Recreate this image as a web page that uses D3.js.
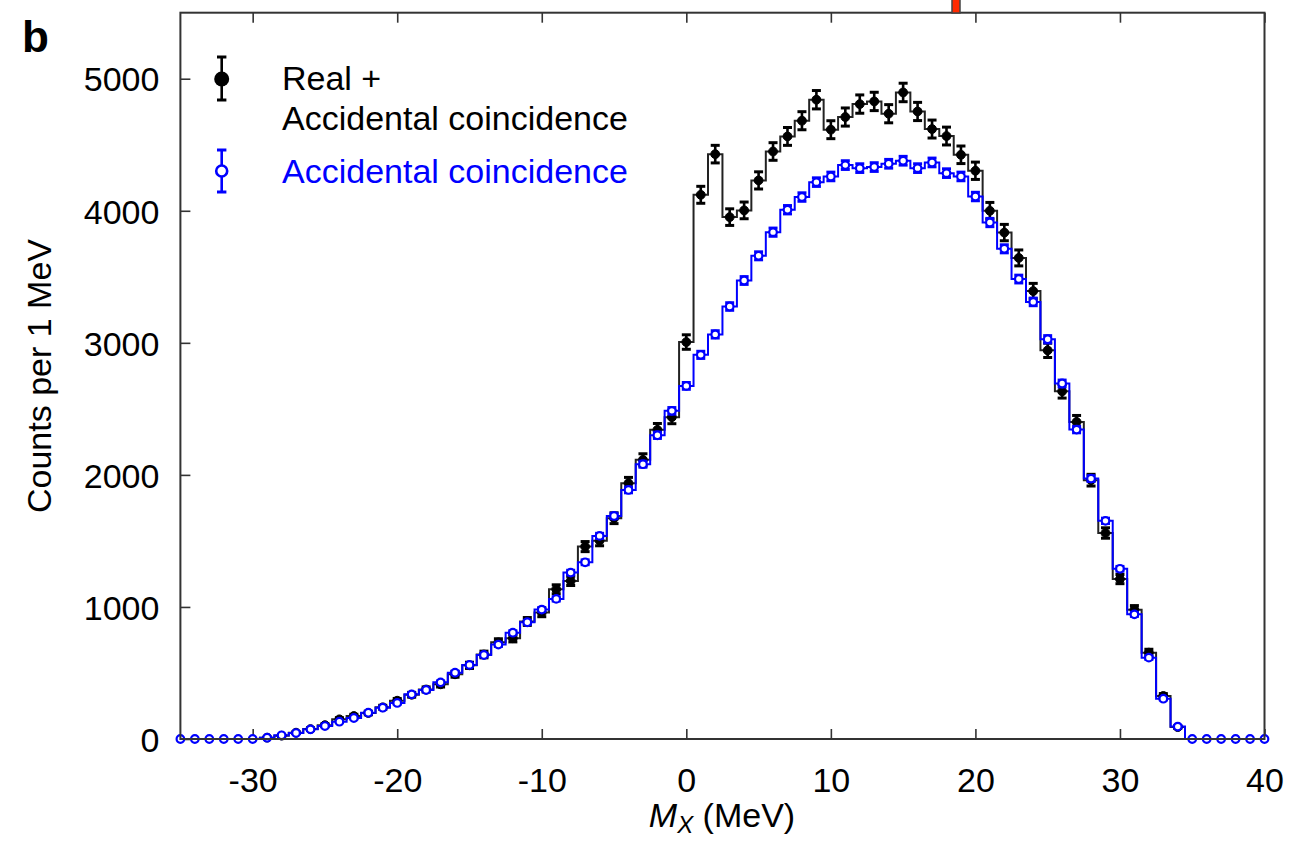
<!DOCTYPE html>
<html>
<head>
<meta charset="utf-8">
<script src="https://cdn.jsdelivr.net/npm/d3@7"></script>
<style>
  body { margin: 0; background: #fff; }
  svg text { font-family: "Liberation Sans", Arial, Helvetica, sans-serif; }
</style>
</head>
<body>
<div id="chart"></div>
<script>
// bin centres (MeV), 1 MeV bins
var binCenters = [-35, -34, -33, -32, -31, -30, -29, -28, -27, -26, -25, -24, -23, -22, -21, -20, -19, -18, -17, -16,
  -15, -14, -13, -12, -11, -10, -9, -8, -7, -6, -5, -4, -3, -2, -1, 0, 1, 2, 3, 4,
  5, 6, 7, 8, 9, 10, 11, 12, 13, 14, 15, 16, 17, 18, 19, 20, 21, 22, 23, 24,
  25, 26, 27, 28, 29, 30, 31, 32, 33, 34, 35, 36, 37, 38, 39, 40];

// Real + Accidental coincidence
var realCounts = [0, 0, 0, 0, 0, 0, 10, 25, 48, 75, 105, 149, 174, 197, 240, 290, 335, 375, 414, 490,
  558, 640, 732, 763, 890, 957, 1134, 1197, 1457, 1502, 1672, 1937, 2114, 2341, 2437, 3006, 4121, 4429, 3952, 4003,
  4230, 4449, 4563, 4682, 4841, 4614, 4710, 4808, 4828, 4735, 4896, 4752, 4619, 4566, 4424, 4303, 4000, 3835, 3643, 3392,
  2943, 2633, 2401, 1960, 1560, 1211, 979, 654, 326, 90, 0, 0, 0, 0, 0, 0];

// Accidental coincidence
var accCounts = [0, 0, 0, 0, 0, 0, 10, 28, 45, 73, 98, 131, 159, 199, 237, 273, 338, 371, 429, 502,
  561, 636, 715, 805, 884, 980, 1061, 1260, 1338, 1538, 1689, 1886, 2081, 2300, 2485, 2674, 2909, 3064, 3275, 3472,
  3659, 3838, 4008, 4104, 4217, 4260, 4346, 4323, 4331, 4356, 4379, 4323, 4366, 4285, 4260, 4108, 3911, 3712, 3483, 3310,
  3027, 2692, 2343, 1972, 1652, 1289, 944, 616, 305, 94, 0, 0, 0, 0, 0, 0];

var xTicks = [-30, -20, -10, 0, 10, 20, 30, 40];
var yTicks = [0, 1000, 2000, 3000, 4000, 5000];

var svgWidth = 1292;
var svgHeight = 842;
var margin = { top: 12.7, right: 27.5, bottom: 103, left: 180.4 };
var width = svgWidth - margin.left - margin.right;
var height = svgHeight - margin.top - margin.bottom;

var svg = d3.select("#chart")
  .append("svg")
  .attr("width", svgWidth)
  .attr("height", svgHeight);

var chartGroup = svg.append("g")
  .attr("transform", `translate(${margin.left}, ${margin.top})`);

var xScale = d3.scaleLinear().domain([-35, 40]).range([0, width]);
var yScale = d3.scaleLinear().domain([0, 5500]).range([height, 0]);

var realData = binCenters.map((x, i) => ({ x: x, y: realCounts[i] }));
var accData = binCenters.map((x, i) => ({ x: x, y: accCounts[i] }));

chartGroup.append("clipPath").attr("id", "plotClip")
  .append("rect").attr("width", width).attr("height", height);

// axes, ticks pointing inward; plain hyphen for negatives
var plainFmt = d => String(d);
var bottomAxis = d3.axisBottom(xScale).tickValues(xTicks).tickSize(-10).tickFormat(plainFmt);
var topAxis = d3.axisTop(xScale).tickValues(xTicks).tickSize(-10).tickFormat("");
var leftAxis = d3.axisLeft(yScale).tickValues(yTicks).tickSize(-10).tickFormat(plainFmt);

var gx = chartGroup.append("g").attr("transform", `translate(0, ${height})`).call(bottomAxis);
var gTop = chartGroup.append("g").call(topAxis);
var gy = chartGroup.append("g").call(leftAxis);

[gx, gTop, gy].forEach(function(g) {
  g.select(".domain").remove();
  g.selectAll(".tick line").attr("stroke", "#333").attr("stroke-width", 1.6);
});
gx.selectAll(".tick text")
  .attr("y", 53).attr("dy", null)
  .attr("font-size", 34).attr("fill", "#000");
gy.selectAll(".tick text")
  .attr("x", -21).attr("dy", "0.36em")
  .attr("font-size", 34).attr("fill", "#000");

// step histograms
var stepLine = d3.line()
  .x(d => xScale(d.x))
  .y(d => yScale(d.y))
  .curve(d3.curveStep);

var lines = chartGroup.append("g").attr("clip-path", "url(#plotClip)");
lines.append("path").datum(realData)
  .attr("d", stepLine).attr("fill", "none").attr("stroke", "#222").attr("stroke-width", 2);
lines.append("path").datum(accData)
  .attr("d", stepLine).attr("fill", "none").attr("stroke", "#0000ff").attr("stroke-width", 2);

// error bars + markers
function drawPoints(data, color, errScale, filled, r) {
  var g = chartGroup.append("g");
  var pts = data.filter(d => filled ? d.y > 0 : true);
  var eb = g.selectAll(".eb").data(pts).enter().append("g");
  eb.append("line")
    .attr("x1", d => xScale(d.x)).attr("x2", d => xScale(d.x))
    .attr("y1", d => yScale(d.y + errScale * Math.sqrt(d.y)))
    .attr("y2", d => yScale(d.y - errScale * Math.sqrt(d.y)))
    .attr("stroke", color).attr("stroke-width", 2.6);
  [1, -1].forEach(function(s) {
    eb.filter(d => d.y > 0).append("line")
      .attr("x1", d => xScale(d.x) - 4.5).attr("x2", d => xScale(d.x) + 4.5)
      .attr("y1", d => yScale(d.y + s * errScale * Math.sqrt(d.y)))
      .attr("y2", d => yScale(d.y + s * errScale * Math.sqrt(d.y)))
      .attr("stroke", color).attr("stroke-width", 3);
  });
  g.selectAll("circle").data(pts).enter().append("circle")
    .attr("cx", d => xScale(d.x)).attr("cy", d => yScale(d.y))
    .attr("r", r)
    .attr("fill", filled ? color : "#fff")
    .attr("stroke", color).attr("stroke-width", filled ? 1 : 2.2);
}
drawPoints(realData, "#000", 1, true, 4.4);
drawPoints(accData, "#0000ff", 0.5, false, 3.8);

// frame
chartGroup.append("rect")
  .attr("width", width).attr("height", height)
  .attr("fill", "none").attr("stroke", "#333").attr("stroke-width", 2);

// red marker at top edge
svg.append("rect")
  .attr("x", 952).attr("y", -2).attr("width", 8).attr("height", 15)
  .attr("fill", "#ff2a00").attr("stroke", "#444").attr("stroke-width", 1.5);

// legend
var legend = svg.append("g");
legend.append("line").attr("x1", 221.7).attr("x2", 221.7).attr("y1", 57).attr("y2", 100)
  .attr("stroke", "#000").attr("stroke-width", 2.6);
[57, 100].forEach(function(y) {
  legend.append("line").attr("x1", 217).attr("x2", 226.4).attr("y1", y).attr("y2", y)
    .attr("stroke", "#000").attr("stroke-width", 3);
});
legend.append("circle").attr("cx", 221.7).attr("cy", 79).attr("r", 7.5).attr("fill", "#000");

legend.append("line").attr("x1", 221.7).attr("x2", 221.7).attr("y1", 150).attr("y2", 192)
  .attr("stroke", "#0000ff").attr("stroke-width", 2.6);
[150, 192].forEach(function(y) {
  legend.append("line").attr("x1", 217).attr("x2", 226.4).attr("y1", y).attr("y2", y)
    .attr("stroke", "#0000ff").attr("stroke-width", 3);
});
legend.append("circle").attr("cx", 221.7).attr("cy", 171).attr("r", 5.5)
  .attr("fill", "#fff").attr("stroke", "#0000ff").attr("stroke-width", 2.6);

legend.append("text").attr("x", 282).attr("y", 90).attr("font-size", 34).attr("fill", "#000").text("Real +");
legend.append("text").attr("x", 282).attr("y", 130).attr("font-size", 34).attr("fill", "#000").text("Accidental coincidence");
legend.append("text").attr("x", 282).attr("y", 183).attr("font-size", 34).attr("fill", "#0000ff").text("Accidental coincidence");

// axis titles
svg.append("text")
  .attr("transform", "translate(51, 376) rotate(-90)")
  .attr("text-anchor", "middle").attr("font-size", 34).attr("fill", "#000")
  .text("Counts per 1 MeV");

var xl = svg.append("text")
  .attr("x", 722).attr("y", 827).attr("text-anchor", "middle")
  .attr("font-size", 34).attr("fill", "#000");
xl.append("tspan").attr("font-style", "italic").text("M");
xl.append("tspan").attr("font-style", "italic").attr("font-size", 24).attr("dy", 6).text("X");
xl.append("tspan").attr("dy", -6).text(" (MeV)");

svg.append("text").attr("x", 22).attr("y", 52)
  .attr("font-size", 44).attr("font-weight", "bold").attr("fill", "#000").text("b");
</script>
</body>
</html>
